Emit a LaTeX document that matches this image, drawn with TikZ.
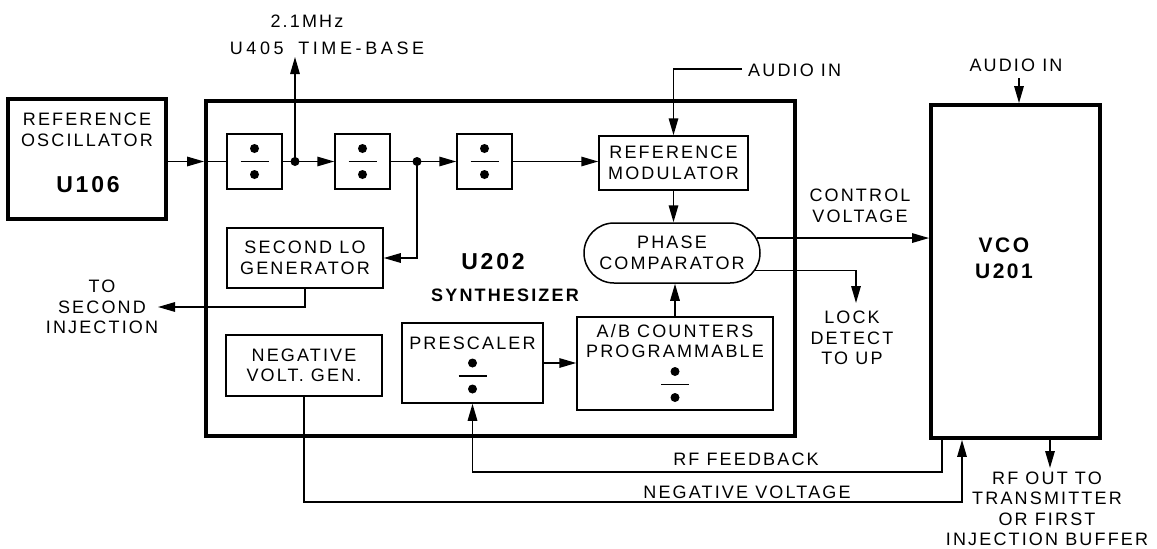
\documentclass[tikz,border=0pt]{standalone}
\usepackage{fontspec}
\setmainfont{Liberation Sans}
\newfontfamily\lblfont[LetterSpace=12]{Liberation Sans}
\newfontfamily\widefont[LetterSpace=20]{Liberation Sans}
\usetikzlibrary{arrows.meta,shapes.misc,calc}
\begin{document}
\begin{tikzpicture}[x=1pt,y=-1pt,
  box/.style={draw, line width=1.5pt, rectangle, inner sep=0pt},
  thickbox/.style={draw, line width=3.8pt, rectangle, inner sep=0pt},
  txt/.style={font=\lblfont\fontsize{18}{20.5}\selectfont, align=center, inner sep=0pt},
  btxt/.style={font=\lblfont\bfseries\fontsize{18}{20}\selectfont, align=center, inner sep=0pt},
  bigtxt/.style={font=\lblfont\bfseries\fontsize{23}{26}\selectfont, align=center, inner sep=0pt},
  conn/.style={line width=1.5pt},
  arr/.style={conn, -{Triangle[length=17pt,width=9.5pt]}},
  divsym/.pic={\fill (0,-13) circle (4.5pt); \fill (0,13) circle (4.5pt); \draw[line width=1.5pt] (-14,0) -- (14,0);}
]
\path[use as bounding box] (0,0) rectangle (1157,549);

% main blocks
\node[thickbox, minimum width=158pt, minimum height=120pt] (refosc) at (87,159) {};
\node[txt] (refosctxt) at (87,130) {REFERENCE\\OSCILLATOR};
\node[bigtxt] (u106) at (88,185) {U106};

\node[thickbox, minimum width=589pt, minimum height=335pt] (synth) at (500.5,268.5) {};
\node[box, minimum width=55pt, minimum height=55pt] (d1) at (254.5,161.5) {};
\pic at (d1.center) {divsym};
\node[box, minimum width=55pt, minimum height=55pt] (d2) at (362.5,161.5) {};
\pic at (d2.center) {divsym};
\node[box, minimum width=55pt, minimum height=55pt] (d3) at (484.5,161.5) {};
\pic at (d3.center) {divsym};

\node[box, txt, minimum width=149pt, minimum height=54pt] (refmod) at (673.5,163) {REFERENCE\\MODULATOR};
\node[draw, line width=1.5pt, rounded rectangle, txt, minimum width=176pt, minimum height=60pt] (phase) at (672,253) {PHASE\\COMPARATOR};
\node[box, txt, minimum width=156pt, minimum height=60pt] (slo) at (305,258) {SECOND LO\\GENERATOR};
\node[box, txt, minimum width=156pt, minimum height=61pt] (nvg) at (304,365.5) {NEGATIVE\\VOLT. GEN.};

\node[box, minimum width=141pt, minimum height=80pt] (presc) at (472.5,363) {};
\node[txt] (presctxt) at (472.5,343) {PRESCALER};
\pic at (472.5,376) {divsym};

\node[box, minimum width=196pt, minimum height=93pt] (ab) at (675,363.5) {};
\node[txt] (abtxt) at (675,341) {A/B COUNTERS\\PROGRAMMABLE};
\pic at (675,384.5) {divsym};

\node[bigtxt] (u202) at (493,262) {U202};
\node[btxt] (synthtxt) at (505,295) {SYNTHESIZER};

\node[thickbox, minimum width=169pt, minimum height=333pt] (vco) at (1015.5,271.5) {};
\node[btxt, font=\lblfont\bfseries\fontsize{21}{26}\selectfont] (vcotxt) at (1004,258) {VCO\\U201};

% labels
\node[txt] (f21) at (307,21) {2.1MHz};
\node[txt, font=\widefont\fontsize{18}{20.5}\selectfont] (tb) at (327,48) {U405\hspace{6pt} TIME-BASE};
\node[txt, anchor=west] (ain1) at (748,70) {AUDIO IN};
\node[txt] (ain2) at (1016,65) {AUDIO IN};
\node[txt] (cv) at (860,206) {CONTROL\\VOLTAGE};
\node[txt] (lock) at (852,338) {LOCK\\DETECT\\TO UP};
\node[txt] (toinj) at (102,307) {TO\\SECOND\\INJECTION};
\node[txt] (rffb) at (746,459) {RF FEEDBACK};
\node[txt] (negv) at (747,492) {NEGATIVE VOLTAGE};
\node[txt] (rfout) at (1047,509) {RF OUT TO\\TRANSMITTER\\OR FIRST\\INJECTION BUFFER};

% coordinates
\coordinate (j1) at (295,161.5);
\coordinate (j2) at (417,161.5);
\coordinate (tbtip) at (295,57);
\coordinate (lk) at (856,303);
\coordinate (rfy) at (942,472);
\coordinate (nvy) at (962,502);
\coordinate (rfo) at (1050,468);
\coordinate (vai) at (1019,78);
\coordinate (ai1) at (742,69);
\coordinate (inj) at (158,307);

% connectors
\draw[arr] (refosc.east |- d1.west) -- (synth.west |- d1.west);
\draw[conn] (synth.west |- d1.west) -- (d1.west);
\draw[conn] (d1.east) -- (j1);
\draw[arr] (j1) -- (d2.west);
\draw[arr] (j1) -- (tbtip);
\draw[conn] (d2.east) -- (j2);
\draw[arr] (j2) -- (d3.west);
\draw[arr] (j2) |- (slo.east);
\draw[arr] (d3.east) -- (refmod.west |- d3.east);
\draw[arr] (ai1) -| (refmod.north);
\draw[arr] (refmod.south) -- (refmod.south |- phase.north);
\draw[arr] (ab.north) -- (ab.north |- phase.south);
\draw[arr] (presc.east) -- (ab.west |- presc.east);
\draw[arr] (phase.10) -- (phase.10 -| vco.west);
\draw[arr] (phase.-12) -| (lk);
\draw[arr] (slo.south) |- (inj);
\draw[arr] (nvg.south) |- (nvy) -- (nvy |- vco.south);
\draw[arr] (rfy |- vco.south) -- (rfy) -| (presc.south);
\draw[arr] (rfo |- vco.south) -- (rfo);
\draw[arr] (vai) -- (vai |- vco.north);
\fill (j1) circle (4.5pt);
\fill (j2) circle (4.5pt);
\end{tikzpicture}
\end{document}
